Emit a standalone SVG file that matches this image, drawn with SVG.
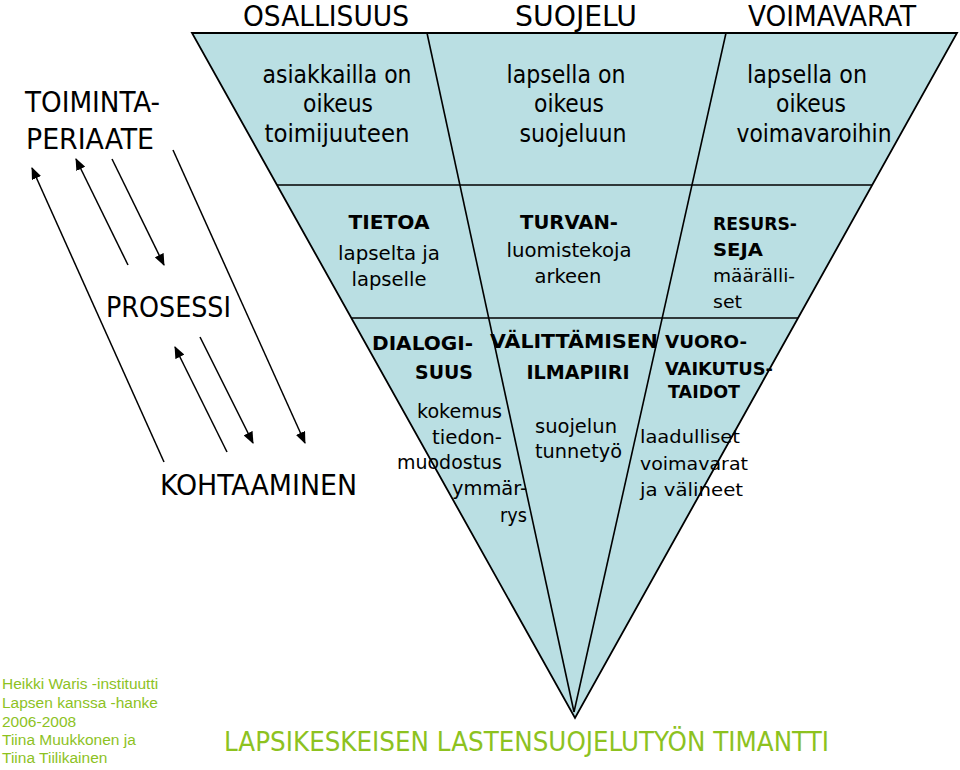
<svg xmlns="http://www.w3.org/2000/svg" width="960" height="770" viewBox="0 0 960 770">
<defs>
<style>
.nar{font-family:"Liberation Sans Narrow","DejaVu Sans Condensed","Liberation Sans",sans-serif;fill:#000}
.hd{font-size:28px}
.t1{font-size:25px;text-anchor:middle}
.lb{font-size:29px}
.tb{font-family:"DejaVu Sans",Verdana,sans-serif;font-weight:bold;font-size:20px;fill:#000}
.tr{font-family:"DejaVu Sans",Verdana,sans-serif;font-size:19.5px;fill:#000}
.sm{font-size:17.5px}
.smr{font-size:18.5px}
.mid{text-anchor:middle}
.end{text-anchor:end}
.grn{font-family:"Liberation Sans",Arial,sans-serif;font-size:15.5px;fill:#8DC21F}
.ttl{font-family:"Liberation Sans Narrow","DejaVu Sans Condensed","Liberation Sans",sans-serif;font-size:26px;fill:#8DC21F}
.ln{stroke:#000;stroke-width:1.6;fill:none}
.arr{stroke:#000;stroke-width:1.5;fill:none;marker-end:url(#ah)}
</style>
<marker id="ah" markerWidth="12" markerHeight="10" refX="11" refY="5" orient="auto" markerUnits="userSpaceOnUse">
<path d="M0,0 L12,5 L0,10 z" fill="#000"/>
</marker>
</defs>
<rect width="960" height="770" fill="#fff"/>

<g id="diamond">
<polygon points="192,33 957,33 575,718" fill="#BADFE3" stroke="#000" stroke-width="1.8" stroke-linejoin="miter"/>
<line class="ln" x1="427" y1="33" x2="574" y2="712"/>
<line class="ln" x1="726" y1="33" x2="574" y2="712"/>
<line class="ln" x1="277" y1="185" x2="872" y2="185"/>
<line class="ln" x1="351" y1="318" x2="798" y2="318"/>
</g>

<g id="headers">
<text class="nar hd" x="243" y="26" textLength="166" lengthAdjust="spacingAndGlyphs">OSALLISUUS</text>
<text class="nar hd" x="515" y="26" textLength="122" lengthAdjust="spacingAndGlyphs">SUOJELU</text>
<text class="nar hd" x="748" y="26" textLength="168" lengthAdjust="spacingAndGlyphs">VOIMAVARAT</text>
</g>

<g id="toimintaperiaate">
<text class="nar lb" x="25" y="112" textLength="135" lengthAdjust="spacingAndGlyphs">TOIMINTA-</text>
<text class="nar lb" x="26" y="149" textLength="128" lengthAdjust="spacingAndGlyphs">PERIAATE</text>
</g>
<g id="prosessi">
<text class="nar lb" x="106" y="317" textLength="125" lengthAdjust="spacingAndGlyphs">PROSESSI</text>
</g>
<g id="kohtaaminen">
<text class="nar lb" x="160" y="495" textLength="197" lengthAdjust="spacingAndGlyphs">KOHTAAMINEN</text>
</g>

<g id="osallisuus-periaate">
<text class="nar t1" x="337" y="83" textLength="149" lengthAdjust="spacingAndGlyphs">asiakkailla on</text>
<text class="nar t1" x="338" y="112" textLength="70" lengthAdjust="spacingAndGlyphs">oikeus</text>
<text class="nar t1" x="337" y="142" textLength="145" lengthAdjust="spacingAndGlyphs">toimijuuteen</text>
</g>
<g id="suojelu-periaate">
<text class="nar t1" x="566" y="83" textLength="119" lengthAdjust="spacingAndGlyphs">lapsella on</text>
<text class="nar t1" x="569" y="112" textLength="70" lengthAdjust="spacingAndGlyphs">oikeus</text>
<text class="nar t1" x="573" y="142" textLength="107" lengthAdjust="spacingAndGlyphs">suojeluun</text>
</g>
<g id="voimavarat-periaate">
<text class="nar t1" x="807" y="83" textLength="120" lengthAdjust="spacingAndGlyphs">lapsella on</text>
<text class="nar t1" x="811" y="112" textLength="70" lengthAdjust="spacingAndGlyphs">oikeus</text>
<text class="nar t1" x="814" y="142" textLength="155" lengthAdjust="spacingAndGlyphs">voimavaroihin</text>
</g>

<g id="tietoa">
<text class="tb mid" x="389" y="229" textLength="81" lengthAdjust="spacingAndGlyphs">TIETOA</text>
<text class="tr mid" x="389" y="260" textLength="102" lengthAdjust="spacingAndGlyphs">lapselta ja</text>
<text class="tr mid" x="389" y="286" textLength="75" lengthAdjust="spacingAndGlyphs">lapselle</text>
</g>
<g id="turvan">
<text class="tb mid" x="569" y="229" textLength="98" lengthAdjust="spacingAndGlyphs">TURVAN-</text>
<text class="tr mid" x="569" y="257" textLength="125" lengthAdjust="spacingAndGlyphs">luomistekoja</text>
<text class="tr mid" x="568" y="283" textLength="67" lengthAdjust="spacingAndGlyphs">arkeen</text>
</g>
<g id="resursseja">
<text class="tb sm" x="713" y="230" textLength="84" lengthAdjust="spacingAndGlyphs">RESURS-</text>
<text class="tb sm" x="713" y="256" textLength="50" lengthAdjust="spacingAndGlyphs">SEJA</text>
<text class="tr smr" x="713" y="282" textLength="82" lengthAdjust="spacingAndGlyphs">määrälli-</text>
<text class="tr smr" x="713" y="308" textLength="29" lengthAdjust="spacingAndGlyphs">set</text>
</g>

<g id="dialogisuus">
<text class="tb end" x="473" y="350" textLength="101" lengthAdjust="spacingAndGlyphs">DIALOGI-</text>
<text class="tb end" x="473" y="379" textLength="58" lengthAdjust="spacingAndGlyphs">SUUS</text>
<text class="tr end" x="502" y="418" textLength="85" lengthAdjust="spacingAndGlyphs">kokemus</text>
<text class="tr end" x="502" y="444" textLength="70" lengthAdjust="spacingAndGlyphs">tiedon-</text>
<text class="tr end" x="502" y="469" textLength="105" lengthAdjust="spacingAndGlyphs">muodostus</text>
<text class="tr end" x="527" y="495" textLength="75" lengthAdjust="spacingAndGlyphs">ymmär-</text>
<text class="tr end" x="527" y="522" textLength="27" lengthAdjust="spacingAndGlyphs">rys</text>
</g>
<g id="valittamisen">
<text class="tb mid" x="574" y="348" textLength="168" lengthAdjust="spacingAndGlyphs">VÄLITTÄMISEN</text>
<text class="tb mid" x="578" y="379" textLength="103" lengthAdjust="spacingAndGlyphs">ILMAPIIRI</text>
<text class="tr" x="535" y="433" textLength="82" lengthAdjust="spacingAndGlyphs">suojelun</text>
<text class="tr" x="535" y="458" textLength="87" lengthAdjust="spacingAndGlyphs">tunnetyö</text>
</g>
<g id="vuorovaikutustaidot">
<text class="tb sm" x="665" y="348" textLength="82" lengthAdjust="spacingAndGlyphs">VUORO-</text>
<text class="tb sm" x="665" y="375" textLength="108" lengthAdjust="spacingAndGlyphs">VAIKUTUS-</text>
<text class="tb sm" x="668" y="398" textLength="72" lengthAdjust="spacingAndGlyphs">TAIDOT</text>
<text class="tr smr" x="640" y="443" textLength="100" lengthAdjust="spacingAndGlyphs">laadulliset</text>
<text class="tr smr" x="640" y="470" textLength="108" lengthAdjust="spacingAndGlyphs">voimavarat</text>
<text class="tr smr" x="640" y="496" textLength="103" lengthAdjust="spacingAndGlyphs">ja välineet</text>
</g>

<g id="connectors">
<line class="arr" x1="164" y1="462" x2="32" y2="168"/>
<line class="arr" x1="128" y1="265" x2="76" y2="159"/>
<line class="arr" x1="112" y1="159" x2="164" y2="265"/>
<line class="arr" x1="173" y1="150" x2="305" y2="443"/>
<line class="arr" x1="227" y1="452" x2="175" y2="347"/>
<line class="arr" x1="200" y1="337" x2="253" y2="443"/>
</g>

<g id="credits">
<text class="grn" x="2" y="689">Heikki Waris -instituutti</text>
<text class="grn" x="2" y="708">Lapsen kanssa -hanke</text>
<text class="grn" x="2" y="727">2006-2008</text>
<text class="grn" x="2" y="745">Tiina Muukkonen ja</text>
<text class="grn" x="2" y="763">Tiina Tiilikainen</text>
</g>
<g id="title">
<text class="ttl" x="224" y="751" textLength="605" lengthAdjust="spacingAndGlyphs">LAPSIKESKEISEN LASTENSUOJELUTYÖN TIMANTTI</text>
</g>
</svg>
